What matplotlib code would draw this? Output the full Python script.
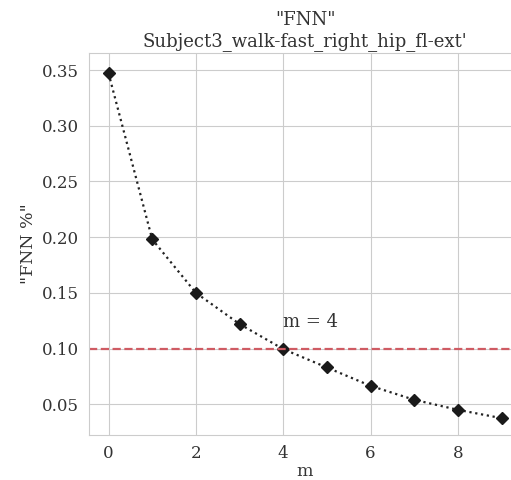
import matplotlib
matplotlib.use("Agg")
import matplotlib.pyplot as plt
import seaborn as sns
import numpy as np

m_values = [0, 1, 2, 3, 4, 5, 6, 7, 8, 9]
fnn_values = [0.347, 0.198, 0.150, 0.122, 0.0995, 0.083, 0.0665, 0.054, 0.045, 0.0375]
threshold = 0.10
chosen_m = 4
title_lines = ['"FNN"', "Subject3_walk-fast_right_hip_fl-ext'"]

sns.set_style("whitegrid")
plt.rcParams['font.family'] = ['DejaVu Serif']

fig = plt.figure(figsize=(5.11, 4.80), dpi=100)
ax = fig.add_axes([0.174, 0.094, 0.846, 0.796])

ax.plot(m_values, fnn_values, linestyle=':', color='#222222', linewidth=1.6,
        marker='D', markersize=6.5, markerfacecolor='#1a1a1a', markeredgecolor='#1a1a1a')
ax.axhline(threshold, color='#cf5b63', linestyle='--', linewidth=1.6)
ax.text(chosen_m, 0.119, f"m = {chosen_m}", fontsize=13, color='#333333')

ax.set_xlim(-0.45, 9.45)
ax.set_ylim(0.0225, 0.3655)
ax.set_xticks([0, 2, 4, 6, 8])
ax.set_yticks([0.05, 0.10, 0.15, 0.20, 0.25, 0.30, 0.35])
ax.set_yticklabels(["0.05", "0.10", "0.15", "0.20", "0.25", "0.30", "0.35"])
ax.tick_params(labelsize=12, colors='#333333')
ax.set_xlabel("m", fontsize=12.5, color='#333333', labelpad=1)
ax.set_ylabel('"FNN %"', fontsize=12.5, color='#333333')
ax.set_title("\n".join(title_lines), fontsize=13, color='#333333', pad=5)

fig.savefig("out.png", dpi=100)
